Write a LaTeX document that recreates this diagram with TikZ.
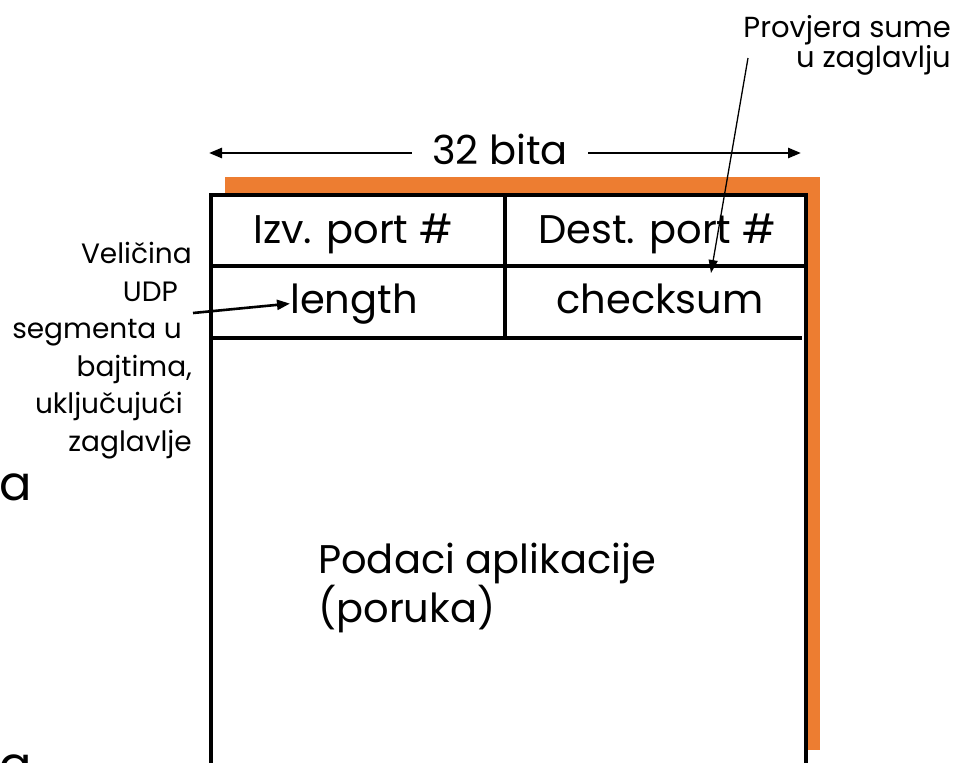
\documentclass[tikz,border=0pt]{standalone}
\usepackage{fontspec}
\setmainfont{Poppins}
\usetikzlibrary{arrows.meta,positioning}
\definecolor{udporange}{RGB}{237,125,49}

\tikzset{
  field/.style={font=\fontsize{40}{44}\selectfont, inner sep=0pt},
  note/.style={font=\fontsize{28}{37.6}\selectfont, align=right, inner sep=0pt},
  pointer/.style={-{Triangle[length=13pt,width=10pt]}, line width=2.6pt},
  thinpointer/.style={-{Triangle[length=13pt,width=9pt]}, line width=1.3pt},
}

\begin{document}
\begin{tikzpicture}[x=1pt,y=-1pt]
\useasboundingbox (0,0) rectangle (956,763);
\fill[udporange] (225,177) rectangle (820,750);
\fill[white] (211,195) rectangle (806,800);
\draw[line width=3.5pt] (211,800)--(211,195)--(806,195)--(806,800);
\draw[line width=3.5pt] (211,266)--(806,266);
\draw[line width=3.5pt] (209,338)--(802,338);
\draw[line width=3.5pt] (505,195)--(505,338);

\node[field, anchor=base] (src) at (353,243) {Izv. port \#};
\node[field, anchor=base] (dst) at (657,243) {Dest. port \#};
\node[field, anchor=base west] (len) at (290,313) {length};
\node[field, anchor=base] (chk) at (660,313) {checksum};
\node[field, align=left, anchor=north west] (data) at (318,543) {Podaci aplikacije\\(poruka)};

% 32 bits wide
\node[field, anchor=base, inner xsep=20pt] (bits) at (500,164) {32 bita};
\coordinate (bitsL) at (209,153);
\coordinate (bitsR) at (801,153);
\draw[pointer] (bits.west |- bitsL) -- (bitsL);
\draw[pointer] (bits.east |- bitsR) -- (bitsR);

\node[note, anchor=north east] (lennote) at (192,242) {Veličina\\UDP\kern14pt\\segmenta u\kern10pt\\bajtima,\\uključujući\kern9pt\\zaglavlje};
\coordinate (lenfrom) at (193,313);
\draw[pointer] (lenfrom) -- (len.west);

\node[note, anchor=north east, font=\fontsize{29}{30}\selectfont] (chknote) at (951,15) {Provjera sume\\u zaglavlju};
\coordinate (chkfrom) at (748,58);
\coordinate (chktip) at (711,273);
\draw[thinpointer] (chkfrom) -- (chktip);

% cut-off letters on the left
\node[font=\fontsize{48}{48}\selectfont, inner sep=0pt, anchor=base west] (cuta) at (-1,500) {a};
\node[font=\fontsize{48}{48}\selectfont, inner sep=0pt, anchor=base west] (cutb) at (-1,781) {a};
\end{tikzpicture}
\end{document}
